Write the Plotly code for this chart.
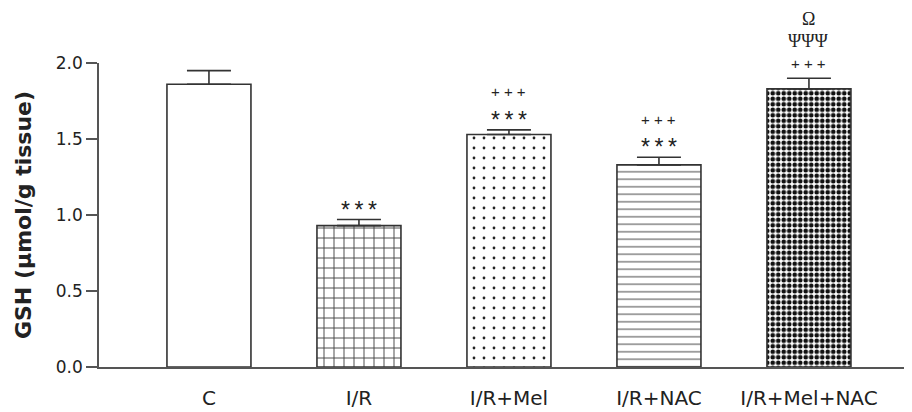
import plotly.graph_objects as go

groups = ["C", "I/R", "I/R+Mel", "I/R+NAC", "I/R+Mel+NAC"]
gsh_mean = [1.86, 0.93, 1.53, 1.33, 1.83]
gsh_sem = [0.09, 0.04, 0.03, 0.05, 0.07]

sig_level0 = ["", "*\u2009*\u2009*", "*\u2009*\u2009*", "*\u2009*\u2009*", "+ + +"]
sig_level1 = ["", "", "+ + +", "+ + +", "ΨΨΨ"]
sig_level2 = ["", "", "", "", "Ω"]

pattern_shapes = ["", "+", ".", "-", "."]
pattern_sizes = [8, 10, 10, 7.5, 5.5]
pattern_solid = [0.2, 0.18, 0.06, 0.16, 0.55]
pattern_fg = ["#333", "#444", "#222", "#666", "#111"]

edge = "#333"

fig = go.Figure()
fig.add_trace(go.Bar(
    x=groups, y=gsh_mean, width=0.56,
    marker=dict(
        color="white",
        line=dict(color=edge, width=1.6),
        pattern=dict(shape=pattern_shapes, size=pattern_sizes,
                     solidity=pattern_solid, fgcolor=pattern_fg,
                     bgcolor="white", fillmode="replace"),
    ),
    error_y=dict(type="data", array=gsh_sem, arrayminus=[0] * len(gsh_sem),
                 symmetric=False, width=22, thickness=1.6, color=edge),
    showlegend=False,
))

annotations = []
for i, g in enumerate(groups):
    top = gsh_mean[i] + gsh_sem[i]
    for lvl, labels in enumerate([sig_level0, sig_level1, sig_level2]):
        t = labels[i]
        if not t:
            continue
        is_star = t.startswith("*")
        serif = ("Ψ" in t) or ("Ω" in t)
        if is_star:
            font = dict(family="Liberation Sans, Arial", size=23, color="#222")
            shift = 16 + 23 * lvl - 6
        elif serif:
            font = dict(family="Liberation Serif, Times New Roman", size=18, color="#222")
            shift = 15 + 22 * lvl
        else:
            font = dict(family="Liberation Sans, Arial", size=15, color="#222")
            shift = 15 + 23 * lvl
        annotations.append(dict(x=g, y=top, xref="x", yref="y", text=t,
                                showarrow=False, yanchor="middle", yshift=shift,
                                font=font))

# page has an 8px body margin; figure sized to fit the 912x412 window
fig.update_layout(
    width=904, height=404,
    margin=dict(l=91, r=0, t=55, b=45),
    paper_bgcolor="white", plot_bgcolor="white",
    annotations=annotations,
    xaxis=dict(range=[-0.733, 4.687], showline=True, linecolor="#555", linewidth=1.5,
               ticks="", showgrid=False, zeroline=False, automargin=False,
               tickfont=dict(family="DejaVu Sans", size=20, color="#222"),
               ticklabelstandoff=12),
    yaxis=dict(range=[0, 2.0], showline=True, linecolor="#555", linewidth=1.5,
               ticks="outside", ticklen=11, tickwidth=1.5, tickcolor="#555",
               tickvals=[0, 0.5, 1.0, 1.5, 2.0], tickformat=".1f",
               showgrid=False, zeroline=False, automargin=False,
               tickfont=dict(family="DejaVu Sans", size=17, color="#222"),
               title=dict(text="<b>GSH (μmol/g tissue)</b>", standoff=18,
                          font=dict(family="DejaVu Sans", size=22, color="#222"))),
)

fig.write_html("out.html")
